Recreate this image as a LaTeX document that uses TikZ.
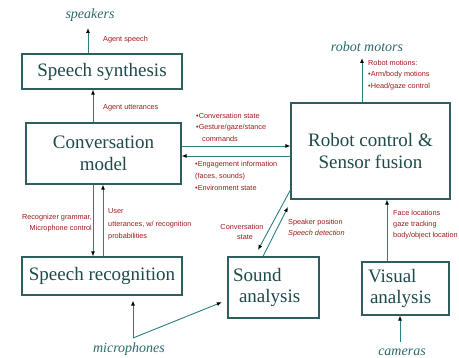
\documentclass[tikz,border=0pt]{standalone}
\usepackage{fontspec}
\setmainfont{Liberation Serif}
\newfontfamily\lblfont{Liberation Sans}
\usetikzlibrary{arrows.meta}
\definecolor{boxline}{HTML}{2F5E5E}
\definecolor{boxtext}{HTML}{1F4A4A}
\definecolor{lbl}{HTML}{A01818}
\definecolor{ital}{HTML}{2A6A6A}
\definecolor{conn}{HTML}{2A7F7F}
\tikzset{
  blockbox/.style={draw=boxline, line width=1.2pt, fill=white, text=boxtext,
    font=\fontsize{19}{21.5}\selectfont, align=center, inner sep=0pt},
  lbltext/.style={text=lbl, font=\lblfont\fontsize{7.3}{10}\selectfont, inner sep=0pt},
  italtext/.style={text=ital, font=\fontsize{14}{16}\selectfont\itshape, inner sep=0pt},
  conarrow/.style={draw=conn, line width=0.9pt, -{Latex[length=5pt,width=4pt,black]}}
}
\begin{document}
\begin{tikzpicture}[x=1pt,y=-1pt]
\useasboundingbox (0,0) rectangle (459,358);
% boxes
\node[blockbox, minimum width=160pt, minimum height=35pt] (synth) at (102,71.5) {Speech synthesis};
\node[blockbox, minimum width=155pt, minimum height=61pt] (conv) at (103.5,153.5) {Conversation\\model};
\node[blockbox, minimum width=159pt, minimum height=96pt] (robot) at (370.5,151) {Robot control \&\\Sensor fusion};
\node[blockbox, minimum width=160pt, minimum height=38pt] (recog) at (102,276) {Speech recognition};
\node[blockbox, minimum width=91pt, minimum height=61pt, text width=81pt, align=left] (sound) at (273.5,287.5) {Sound\\\hspace*{6pt}analysis};
\node[blockbox, minimum width=87pt, minimum height=53pt, text width=75pt, align=left] (visual) at (405.5,288.5) {Visual\\\hspace*{2pt}analysis};
% italic end labels
\node[italtext] (speakers) at (90,15) {speakers};
\node[italtext] (motors) at (367,47) {robot motors};
\node[italtext] (mics) at (129,349) {microphones};
\node[italtext] (cams) at (402,352) {cameras};
\coordinate (micpt) at (133,338);
\coordinate (campt) at (400,342);
% connectors
\draw[conarrow] (synth.north -| 88,0) -- (88,28);
\draw[conarrow] (conv.north -| 93,0) -- (synth.south -| 93,0);
\draw[conarrow] (robot.north -| 362,0) -- (362,58);
\draw[conarrow] (conv.east |- 0,146) -- (robot.west |- 0,146);
\draw[conarrow] (robot.west |- 0,156) -- (conv.east |- 0,156);
\draw[conarrow] (conv.south -| 93,0) -- (recog.north -| 93,0);
\draw[conarrow] (recog.north -| 103,0) -- (conv.south -| 103,0);
\draw[conarrow] (robot.west |- 0,190) -- (258,250);
\draw[conarrow] (sound.north -| 263,0) -- (288,207);
\draw[conarrow] (visual.north -| 387,0) -- (robot.south -| 387,0);
\draw[conarrow] (campt) -- (visual.south -| 400,0);
\draw[conarrow, shorten >=5pt] (micpt) -- (recog.south -| 133,0);
\draw[conarrow, shorten >=6pt] (micpt) -- (sound.west |- 0,300);
% labels
\node[lbltext, anchor=base west] (l1) at (103,42) {Agent speech};
\node[lbltext, anchor=base west] (l2) at (103,110) {Agent utterances};
\node[lbltext, anchor=base west, align=left] (l3) at (368,66) {Robot motions:};
\node[lbltext, anchor=base west] (l3b) at (368,77) {•Arm/body motions};
\node[lbltext, anchor=base west] (l3c) at (368,89) {•Head/gaze control};
\node[lbltext, anchor=base west] (l4) at (196,119) {•Conversation state};
\node[lbltext, anchor=base west] (l4b) at (196,130) {•Gesture/gaze/stance};
\node[lbltext, anchor=base west] (l4c) at (202,142) {commands};
\node[lbltext, anchor=base west] (l5) at (195,167) {•Engagement information};
\node[lbltext, anchor=base west] (l5b) at (195,179) {(faces, sounds)};
\node[lbltext, anchor=base west] (l5c) at (195,191) {•Environment state};
\node[lbltext, anchor=base east] (l6) at (92,220) {Recognizer grammar,};
\node[lbltext, anchor=base east] (l6b) at (92,231) {Microphone control};
\node[lbltext, anchor=base west] (l7) at (108,214) {User};
\node[lbltext, anchor=base west] (l7b) at (108,227) {utterances, w/ recognition};
\node[lbltext, anchor=base west] (l7c) at (108,239) {probabilities};
\node[lbltext, anchor=base] (l8) at (242,230) {Conversation};
\node[lbltext, anchor=base] (l8b) at (245,240) {state};
\node[lbltext, anchor=base west] (l9) at (288,225) {Speaker position};
\node[lbltext, anchor=base west, font=\lblfont\itshape\fontsize{7.3}{10}\selectfont] (l9b) at (288,236) {Speech detection};
\node[lbltext, anchor=base west] (l10) at (393,216) {Face locations};
\node[lbltext, anchor=base west] (l10b) at (393,227) {gaze tracking};
\node[lbltext, anchor=base west] (l10c) at (393,238) {body/object location};
\end{tikzpicture}
\end{document}
